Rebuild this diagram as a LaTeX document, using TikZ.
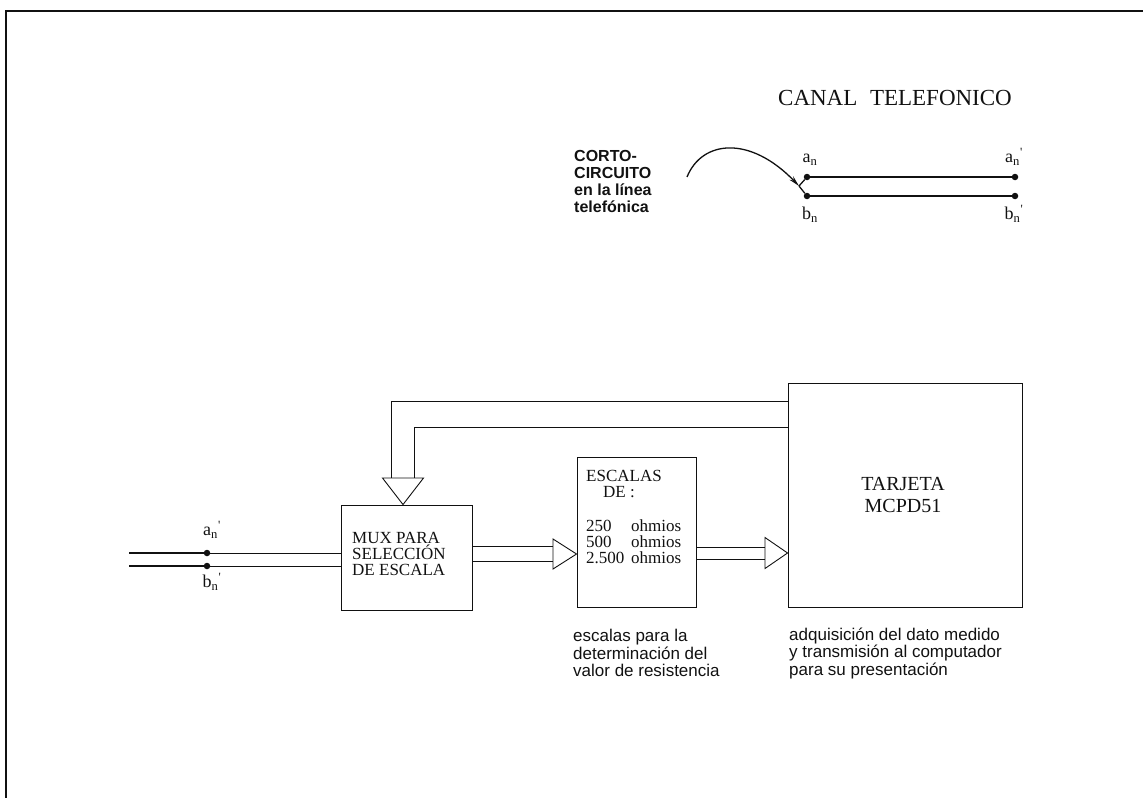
\documentclass[tikz,border=0pt]{standalone}
\usepackage{fontspec}
\setmainfont{Liberation Serif}
\setsansfont{Liberation Sans}
\usepackage{tikz}
\usetikzlibrary{arrows.meta,positioning,calc}
\definecolor{ink}{HTML}{111111}
\tikzset{
  block/.style={draw=ink,line width=0.9pt,inner sep=0pt},
  wire/.style={draw=ink,line width=0.9pt},
  pairwire/.style={draw=ink,line width=1.3pt},
  junction/.style={circle,fill=ink,inner sep=0pt,minimum size=6.5pt},
  boxtext/.style={font=\fontsize{17}{16}\selectfont,align=left,inner sep=0pt,text=ink},
  pinlabel/.style={font=\fontsize{18}{18}\selectfont,inner sep=0pt,text=ink},
  note/.style={font=\sffamily\fontsize{17}{17.5}\selectfont,align=left,
               inner sep=0pt,text=ink},
  boldnote/.style={font=\sffamily\bfseries\fontsize{16}{17}\selectfont,align=left,
                   inner sep=0pt,text=ink},
  headline/.style={font=\fontsize{23}{23}\selectfont,inner sep=0pt,text=ink}
}

\begin{document}
\begin{tikzpicture}[x=1pt,y=-1pt]
    \path[use as bounding box] (0,0) rectangle (1143,798);
    \draw[ink,line width=1.4pt] (1143,11) -- (6,11) -- (6,798);

    % telephone channel
    \node[headline] (canal) at (895,98) {CANAL\hspace{0.55em}TELEFONICO};
    \node[junction] (an) at (807,177) {};
    \node[junction] (bn) at (807,196) {};
    \node[junction] (anp) at (1015,177) {};
    \node[junction] (bnp) at (1015,196) {};
    \draw[pairwire] (an) -- (anp);
    \draw[pairwire] (bn) -- (bnp);
    \node[pinlabel] (anlab) at (810,160) {a\textsubscript{n}};
    \node[pinlabel] (bnlab) at (810,215) {b\textsubscript{n}};
    \node[pinlabel] (anplab) at (1014,157) {a\textsubscript{n}\textsuperscript{\textquotesingle}};
    \node[pinlabel] (bnplab) at (1014,214) {b\textsubscript{n}\textsuperscript{\textquotesingle}};

    \node[boldnote,anchor=west] (corto) at (574,181)
      {CORTO-\\CIRCUITO\\en la línea\\telefónica};
    \coordinate (scfrom) at (687,177);
    \coordinate (sc) at (799,186);
    \draw[pairwire,-{Stealth[length=11pt,width=5pt]}]
      (scfrom) .. controls (702,140) and (750,135) .. (sc);
    \draw[pairwire] (sc) -- (an);
    \draw[pairwire] (sc) -- (bn);

    % blocks
    \node[block,minimum width=131pt,minimum height=105pt] (mux) at (406.5,557.5) {};
    \node[boxtext,anchor=west] (muxtxt) at (352,554)
      {MUX PARA\\SELECCIÓN\\DE ESCALA};
    \node[block,minimum width=119pt,minimum height=150pt] (escalas) at (636.5,532) {};
    \node[boxtext,anchor=west] (escalastxt) at (586,517)
      {ESCALAS\\\hspace*{17pt}DE :\\[18pt]
       \makebox[45pt][l]{250}ohmios\\
       \makebox[45pt][l]{500}ohmios\\
       \makebox[45pt][l]{2.500}ohmios};
    \node[block,minimum width=234pt,minimum height=224pt] (tarjeta) at (905,495) {};
    \node[boxtext,align=center,font=\fontsize{20}{22}\selectfont] (tarjetatxt)
      at (903,495) {TARJETA\\MCPD51};

    % input pair
    \coordinate (ina) at (129,553);
    \coordinate (inb) at (129,566);
    \node[junction] (anin) at (207,553) {};
    \node[junction] (bnin) at (207,566) {};
    \draw[pairwire] (ina) -- (anin);
    \draw[pairwire] (inb) -- (bnin);
    \draw[wire] (anin) -- (anin -| mux.west);
    \draw[wire] (bnin) -- (bnin -| mux.west);
    \node[pinlabel] (aninlab) at (212,530) {a\textsubscript{n}\textsuperscript{\textquotesingle}};
    \node[pinlabel] (bninlab) at (212,582) {b\textsubscript{n}\textsuperscript{\textquotesingle}};

    % wide arrows
    \coordinate (h1) at (553,554);
    \draw[wire] (mux.east |- 0,546) -- (h1 |- 0,546);
    \draw[wire] (mux.east |- 0,561) -- (h1 |- 0,561);
    \draw[wire] ($(h1)+(0,-15)$) -- (escalas.west |- h1) -- ($(h1)+(0,15)$) -- cycle;

    \coordinate (h2) at (765,553);
    \draw[wire] (escalas.east |- 0,547) -- (h2 |- 0,547);
    \draw[wire] (escalas.east |- 0,559) -- (h2 |- 0,559);
    \draw[wire] ($(h2)+(0,-15.5)$) -- (tarjeta.west |- h2) -- ($(h2)+(0,15.5)$) -- cycle;

    \coordinate (h3) at (403,478);
    \draw[wire] (tarjeta.west |- 0,401) -| (h3 -| 391,0);
    \draw[wire] (tarjeta.west |- 0,427) -| (h3 -| 414,0);
    \draw[wire] ($(h3)+(-20.5,0)$) -- ($(h3)+(20.5,0)$) -- (h3 |- mux.north) -- cycle;

    % notes
    \node[note,anchor=west] (escnote) at (573,653)
      {escalas para la\\determinación del\\valor de resistencia};
    \node[note,anchor=west] (tarnote) at (789,653)
      {adquisición del dato medido\\y transmisión al computador\\para su presentación};
  \end{tikzpicture}
\end{document}
